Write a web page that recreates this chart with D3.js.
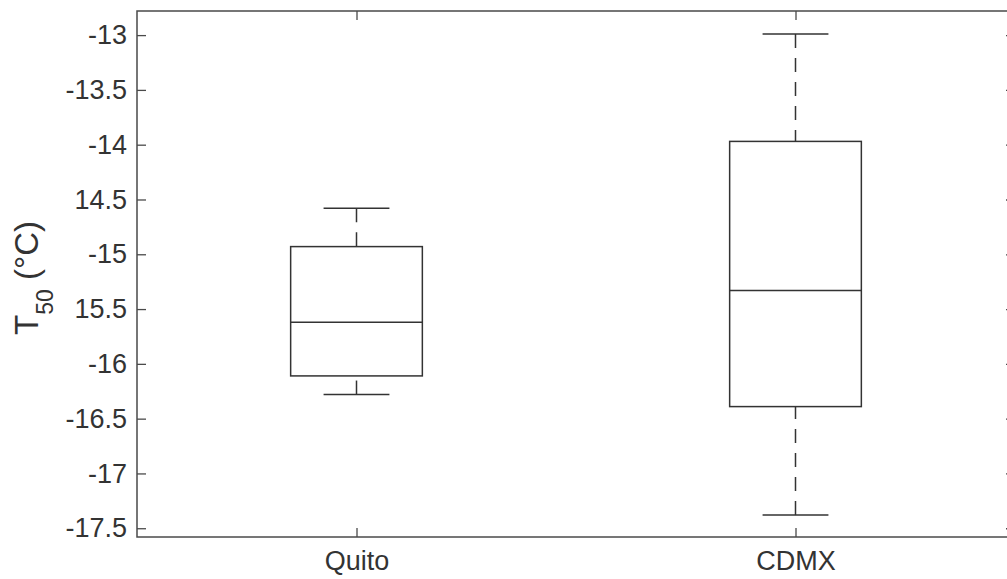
<!DOCTYPE html>
<html>
<head>
<meta charset="utf-8">
<script src="https://cdn.jsdelivr.net/npm/d3@7"></script>
<style>
  body { margin: 0; background: #fff; }
  text { font-family: "Liberation Sans", Arial, sans-serif; fill: #333; }
</style>
</head>
<body>
<script>
'use strict';

// categories and box stats
let cities = ["Quito", "CDMX"];
let whiskerLow = [-16.28, -17.38];
let quart1 = [-16.11, -16.39];
let medians = [-15.62, -15.33];
let quart3 = [-14.93, -13.97];
let whiskerHigh = [-14.58, -12.99];

// y tick values and their labels as printed
let yTicks = [-13, -13.5, -14, -14.5, -15, -15.5, -16, -16.5, -17, -17.5];
let yTickLabels = ["-13", "-13.5", "-14", "14.5", "-15", "15.5", "-16", "-16.5", "-17", "-17.5"];

(function() {
  let width = 1007, height = 579;
  let left = 137, right = 1015, top = 11, bottom = 537;

  let svg = d3.select('body')
    .append('svg')
    .attr('width', width)
    .attr('height', height);

  let xScale = d3.scaleLinear().domain([0.5, 2.5]).range([left, right]);
  let yScale = d3.scaleLinear().domain([-17.58, -12.78]).range([bottom, top]);

  let lineColor = "#333";
  let axisColor = "#4a4a4a";
  let boxHalf = 0.15, capHalf = 0.075;

  // axes with inward ticks
  let tickLen = 9;
  let yLeft = d3.axisLeft(yScale).tickValues(yTicks)
    .tickFormat((d, i) => yTickLabels[i])
    .tickSizeInner(-tickLen).tickSizeOuter(0).tickPadding(10);
  let gl = svg.append('g').attr('transform', 'translate(' + left + ',0)').call(yLeft);

  let yRight = d3.axisRight(yScale).tickValues(yTicks).tickFormat('')
    .tickSizeInner(-tickLen).tickSizeOuter(0);
  let gr = svg.append('g').attr('transform', 'translate(' + right + ',0)').call(yRight);

  let xBottom = d3.axisBottom(xScale).tickValues([1, 2])
    .tickFormat((d) => cities[d - 1])
    .tickSizeInner(-tickLen).tickSizeOuter(0).tickPadding(14);
  let gb = svg.append('g').attr('transform', 'translate(0,' + bottom + ')').call(xBottom);

  let xTop = d3.axisTop(xScale).tickValues([1, 2]).tickFormat('')
    .tickSizeInner(-tickLen).tickSizeOuter(0);
  let gt = svg.append('g').attr('transform', 'translate(0,' + top + ')').call(xTop);

  [gl, gr, gb, gt].forEach((g) => {
    g.select('.domain').remove();
    g.selectAll('.tick line').attr('stroke', axisColor).attr('stroke-width', 1.3);
    g.selectAll('.tick text')
      .style('font-family', '"Liberation Sans", Arial, sans-serif')
      .style('font-size', '27px')
      .attr('fill', '#333');
  });

  // axes frame
  svg.append('rect')
    .attr('x', left).attr('y', top)
    .attr('width', right - left).attr('height', bottom - top)
    .attr('fill', 'none')
    .attr('stroke', axisColor)
    .attr('stroke-width', 1.5);

  // boxes
  let idx = cities.map((c, i) => i);
  let groups = svg.selectAll('.boxgrp')
    .data(idx)
    .enter()
    .append('g')
    .attr('class', 'boxgrp');

  // whiskers, dashed, drawn from cap toward the box
  groups.append('line')
    .attr('x1', (i) => xScale(i + 1)).attr('x2', (i) => xScale(i + 1))
    .attr('y1', (i) => yScale(whiskerHigh[i])).attr('y2', (i) => yScale(quart3[i]))
    .attr('stroke', lineColor).attr('stroke-width', 1.5)
    .attr('stroke-dasharray', '14,10');
  groups.append('line')
    .attr('x1', (i) => xScale(i + 1)).attr('x2', (i) => xScale(i + 1))
    .attr('y1', (i) => yScale(whiskerLow[i])).attr('y2', (i) => yScale(quart1[i]))
    .attr('stroke', lineColor).attr('stroke-width', 1.5)
    .attr('stroke-dasharray', '14,10');

  // caps
  [whiskerHigh, whiskerLow].forEach((arr) => {
    groups.append('line')
      .attr('x1', (i) => xScale(i + 1 - capHalf)).attr('x2', (i) => xScale(i + 1 + capHalf))
      .attr('y1', (i) => yScale(arr[i])).attr('y2', (i) => yScale(arr[i]))
      .attr('stroke', lineColor).attr('stroke-width', 1.5);
  });

  // box
  groups.append('rect')
    .attr('x', (i) => xScale(i + 1 - boxHalf))
    .attr('y', (i) => yScale(quart3[i]))
    .attr('width', (i) => xScale(i + 1 + boxHalf) - xScale(i + 1 - boxHalf))
    .attr('height', (i) => yScale(quart1[i]) - yScale(quart3[i]))
    .attr('fill', 'none')
    .attr('stroke', lineColor).attr('stroke-width', 1.5);

  // median
  groups.append('line')
    .attr('x1', (i) => xScale(i + 1 - boxHalf)).attr('x2', (i) => xScale(i + 1 + boxHalf))
    .attr('y1', (i) => yScale(medians[i])).attr('y2', (i) => yScale(medians[i]))
    .attr('stroke', lineColor).attr('stroke-width', 1.5);

  // y label: T_50 (°C)
  let ylab = svg.append('text')
    .attr('transform', 'translate(38, 278)rotate(-90)')
    .attr('text-anchor', 'middle')
    .style('font-size', '33px');
  ylab.append('tspan').text('T');
  ylab.append('tspan').attr('dy', 15).style('font-size', '23px').text('50');
  ylab.append('tspan').attr('dy', -15).text(' (°C)');
})();
</script>
</body>
</html>
